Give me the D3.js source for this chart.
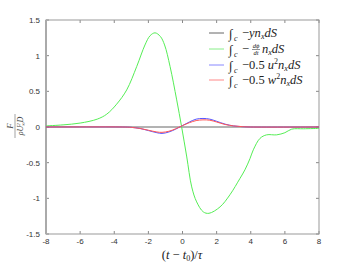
<!DOCTYPE html>
<html><head><meta charset="utf-8">
<script src="https://cdn.jsdelivr.net/npm/d3@7"></script>
<style>body{margin:0;background:#fff}svg{display:block}</style>
</head><body>
<script>
const xTicks = [-8,-6,-4,-2,0,2,4,6,8];
const yTicks = [-1.5,-1,-0.5,0,0.5,1,1.5];
const yTickLabels = ["-1.5","-1","-0.5","0","0.5","1","1.5"];
const tBlack = [-8, 8];
const vBlack = [0, 0];
const tGreen = [-8,-7,-6,-5,-4.44,-3.86,-3.27,-2.68,-2.2,-1.9,-1.61,-1.3,-1.05,-0.73,-0.34,-0.05,0.25,0.54,0.83,1.22,1.55,2.2,2.78,3.37,3.66,3.96,4.15,4.54,4.93,5.52,6.0,6.4,7.1,8];
const vGreen = [0.015,0.03,0.055,0.11,0.18,0.32,0.52,0.85,1.15,1.28,1.32,1.27,1.15,0.85,0.38,0,-0.42,-0.84,-1.05,-1.19,-1.21,-1.12,-0.95,-0.72,-0.60,-0.44,-0.32,-0.16,-0.11,-0.11,-0.08,-0.03,-0.025,-0.02];
const tBlue = [-8,-3.5,-3,-2.5,-2,-1.5,-1.2,-0.8,-0.4,0,0.4,0.8,1.2,1.6,2,2.5,3,3.5,4,8];
const vBlue = [0,0,-0.005,-0.02,-0.05,-0.08,-0.09,-0.07,-0.03,0.02,0.07,0.11,0.12,0.11,0.08,0.04,0.015,0.005,0,0];
const tRed = [-8,-3.5,-3,-2.5,-2,-1.5,-1.2,-0.8,-0.4,0,0.4,0.8,1.2,1.6,2,2.5,3,3.5,4,8];
const vRed = [0,0,-0.005,-0.02,-0.045,-0.07,-0.075,-0.06,-0.025,0.02,0.06,0.09,0.10,0.095,0.07,0.035,0.015,0.005,0,0];

const W=353,H=264, L=46,R=319,T=20,B=234;
const svg=d3.select("body").append("svg").attr("width",W).attr("height",H);
const x=d3.scaleLinear().domain([-8,8]).range([L,R]);
const y=d3.scaleLinear().domain([-1.5,1.5]).range([B,T]);

// ticks (inward, mirrored)
const tg=svg.append("g").attr("stroke","#888").attr("stroke-width",1);
xTicks.forEach(t=>{
  tg.append("line").attr("x1",x(t)).attr("x2",x(t)).attr("y1",B).attr("y2",B-3);
  tg.append("line").attr("x1",x(t)).attr("x2",x(t)).attr("y1",T).attr("y2",T+3);
});
yTicks.forEach(v=>{
  tg.append("line").attr("x1",L).attr("x2",L+3).attr("y1",y(v)).attr("y2",y(v));
  tg.append("line").attr("x1",R).attr("x2",R-3).attr("y1",y(v)).attr("y2",y(v));
});
// frame
svg.append("rect").attr("x",L).attr("y",T).attr("width",R-L).attr("height",B-T)
  .attr("fill","none").attr("stroke","#999").attr("stroke-width",1);
svg.append("line").attr("x1",L).attr("x2",L).attr("y1",T).attr("y2",B).attr("stroke","#aaa").attr("stroke-width",2);

// tick labels
const lab=svg.append("g").attr("font-family","Liberation Sans, Arial, sans-serif").attr("font-size",8).attr("fill","#333");
xTicks.forEach(t=>lab.append("text").attr("x",x(t)).attr("y",B+10).attr("text-anchor","middle").text(t));
yTicks.forEach((v,i)=>lab.append("text").attr("x",L-6).attr("y",y(v)+3).attr("text-anchor","end").text(yTickLabels[i]));

// curves
const line=(ts,vs)=>d3.line().x(d=>x(d[0])).y(d=>y(d[1])).curve(d3.curveCatmullRom.alpha(0.5))(ts.map((t,i)=>[t,vs[i]]));
const plot=svg.append("g").attr("fill","none").attr("stroke-width",1);
plot.append("path").attr("d",line(tBlack,vBlack)).attr("stroke","#666");
plot.append("path").attr("d",line(tGreen,vGreen)).attr("stroke","#55ee55");
plot.append("path").attr("d",line(tBlue,vBlue)).attr("stroke","#5555ff");
plot.append("path").attr("d",line(tRed,vRed)).attr("stroke","#ff5555");

// legend
const leg=svg.append("g").attr("font-family","Liberation Serif, DejaVu Serif, serif").attr("fill","#222");
const legY=[33,49,65,80];
const legC=["#666","#88ee88","#8888ff","#ff8888"];
legY.forEach((ly,i)=>leg.append("line").attr("x1",209).attr("x2",224).attr("y1",ly).attr("y2",ly).attr("stroke",legC[i]).attr("stroke-width",1));
function integ(g,ly){
  g.append("text").attr("x",229).attr("y",ly+5).attr("font-size",13).text("∫");
  g.append("text").attr("x",234).attr("y",ly+8).attr("font-size",8).attr("font-style","italic").text("c");
}
// 1
integ(leg,legY[0]);
let t1=leg.append("text").attr("x",242).attr("y",legY[0]+4).attr("font-size",12.5);
t1.append("tspan").text("−");
t1.append("tspan").attr("font-style","italic").text("yn");
t1.append("tspan").attr("font-style","italic").attr("font-size",8).attr("dy",2).text("x");
t1.append("tspan").attr("font-style","italic").attr("dy",-2).text("dS");
// 2
integ(leg,legY[1]);
leg.append("text").attr("x",242).attr("y",legY[1]+4).attr("font-size",12.5).text("−");
leg.append("text").attr("x",256).attr("y",legY[1]-1).attr("font-size",6.5).attr("font-style","italic").attr("text-anchor","middle").text("dϕ");
leg.append("line").attr("x1",252).attr("x2",260).attr("y1",legY[1]+0.5).attr("y2",legY[1]+0.5).attr("stroke","#222").attr("stroke-width",0.5);
leg.append("text").attr("x",256).attr("y",legY[1]+6).attr("font-size",6.5).attr("font-style","italic").attr("text-anchor","middle").text("dt");
let t2=leg.append("text").attr("x",262).attr("y",legY[1]+4).attr("font-size",12.5);
t2.append("tspan").attr("font-style","italic").text("n");
t2.append("tspan").attr("font-style","italic").attr("font-size",8).attr("dy",2).text("x");
t2.append("tspan").attr("font-style","italic").attr("dy",-2).text("dS");
// 3 & 4
[["u",2],["w",3]].forEach(([v,i])=>{
  integ(leg,legY[i]);
  let tt=leg.append("text").attr("x",242).attr("y",legY[i]+4).attr("font-size",12.5);
  tt.append("tspan").text("−0.5 ");
  tt.append("tspan").attr("font-style","italic").text(v);
  tt.append("tspan").attr("font-size",8).attr("dy",-5).text("2");
  tt.append("tspan").attr("font-style","italic").attr("dy",5).text("n");
  tt.append("tspan").attr("font-style","italic").attr("font-size",8).attr("dy",2).text("x");
  tt.append("tspan").attr("font-style","italic").attr("dy",-2).text("dS");
});

// x label
const xl=svg.append("text").attr("x",182).attr("y",259).attr("text-anchor","middle")
  .attr("font-family","Liberation Serif, DejaVu Serif, serif").attr("font-size",12.5).attr("fill","#222");
xl.append("tspan").text("(");
xl.append("tspan").attr("font-style","italic").text("t");
xl.append("tspan").text(" − ");
xl.append("tspan").attr("font-style","italic").text("t");
xl.append("tspan").attr("font-size",8).attr("dy",2).text("0");
xl.append("tspan").attr("dy",-2).text(")/");
xl.append("tspan").attr("font-style","italic").text("τ");

// y label (fraction, rotated)
const yl=svg.append("g").attr("transform","translate(15,126) rotate(-90)")
  .attr("font-family","Liberation Serif, DejaVu Serif, serif").attr("fill","#444");
yl.append("text").attr("x",0).attr("y",-2).attr("text-anchor","middle").attr("font-size",9).attr("font-style","italic").text("F");
yl.append("line").attr("x1",-12).attr("x2",12).attr("y1",0).attr("y2",0).attr("stroke","#444").attr("stroke-width",0.5);
const yd=yl.append("text").attr("x",0).attr("y",8).attr("text-anchor","middle").attr("font-size",8).attr("font-style","italic");
yd.append("tspan").text("ρU");
yd.append("tspan").attr("font-size",5).attr("dy",-3).text("2");
yd.append("tspan").attr("font-size",5).attr("dy",5).attr("dx",-3).text("∞");
yd.append("tspan").attr("dy",-2).text("D");
</script>
</body></html>
